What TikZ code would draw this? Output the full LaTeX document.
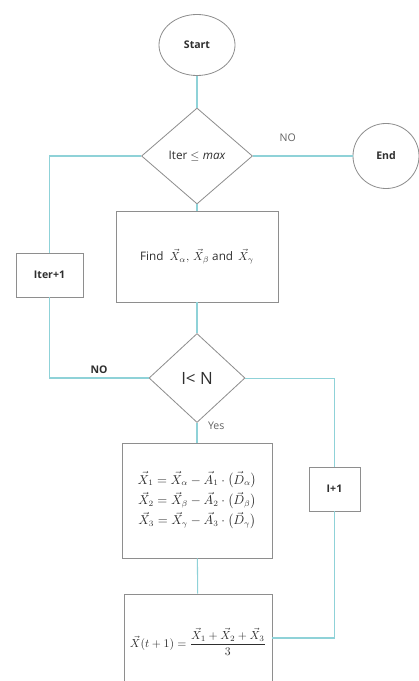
\documentclass[tikz,border=0pt]{standalone}
\usepackage{amsmath,amssymb}
\usepackage{fontspec}
\setmainfont{Open Sans}
\usepackage{tikz}
\usetikzlibrary{shapes.geometric}
\usetikzlibrary{positioning}

\definecolor{flowline}{HTML}{8FD2D8}
\definecolor{boxline}{HTML}{8E8E8E}
\definecolor{ink}{HTML}{2E2E2E}

\begin{document}
\begin{tikzpicture}[x=0.03cm, y=-0.03cm,
    every node/.style={text=ink},
    term/.style={draw=boxline, line width=0.7pt, ellipse, inner sep=0pt, font=\small\bfseries},
    decide/.style={draw=boxline, line width=0.7pt, diamond, inner sep=0pt},
    procbox/.style={draw=boxline, line width=0.7pt, rectangle, inner sep=0pt, align=center},
    flow/.style={draw=flowline, line width=0.9pt}]
    \useasboundingbox (0,0) rectangle (418,681);

    % terminals
    \node[term, minimum width=2.28cm, minimum height=1.83cm] (start) at (197,45) {Start};
    \node[term, minimum width=1.98cm, minimum height=1.95cm] (endn) at (386,156) {End};

    % decisions
    \node[decide, minimum width=3.33cm, minimum height=2.88cm] (iter) at (197,156) {Iter $\leq \mathit{max}$};
    \node[decide, minimum width=2.88cm, minimum height=2.67cm, font=\Large] (cmp) at (197,378) {I< N};

    % process boxes
    \node[procbox, minimum width=4.86cm, minimum height=2.73cm] (find) at (197,256.5)
        {Find \ $\vec{X}_{\alpha},\, \vec{X}_{\beta}$ and \,$\vec{X}_{\gamma}$};
    \node[procbox, minimum width=2.01cm, minimum height=1.32cm, font=\small\bfseries] (iterinc) at (49.5,275) {Iter+1};
    \node[procbox, minimum width=1.53cm, minimum height=1.32cm, font=\small\bfseries] (iinc) at (334.5,489) {I+1};
    \node[procbox, minimum width=4.5cm, minimum height=3.45cm, font=\fontsize{10.5}{13}\selectfont] (update) at (197,500.5)
        {$\vec{X}_1 = \vec{X}_{\alpha} - \vec{A}_1 \cdot \big(\vec{D}_{\alpha}\big)$\\[2pt]
         $\vec{X}_2 = \vec{X}_{\beta} - \vec{A}_2 \cdot \big(\vec{D}_{\beta}\big)$\\[2pt]
         $\vec{X}_3 = \vec{X}_{\gamma} - \vec{A}_3 \cdot \big(\vec{D}_{\gamma}\big)$};
    \node[procbox, minimum width=4.44cm, minimum height=2.88cm] (pos) at (198,642)
        {$\vec{X}(t+1) = \dfrac{\vec{X}_1 + \vec{X}_2 + \vec{X}_3}{3}$};

    % connectors
    \draw[flow] (start) -- (iter);
    \draw[flow] (iter) -- node[pos=0.35, above=0.3cm, font=\small, text=ink!75] {NO} (endn);
    \draw[flow] (iter) -- (find);
    \draw[flow] (find) -- (cmp);
    \draw[flow] (cmp) -- node[pos=0.15, right=0.2cm, font=\small, text=ink!75] {Yes} (update);
    \draw[flow] (update) -- (pos);
    \draw[flow] (cmp.west) -| node[pos=0.25, above, font=\small\bfseries] {NO} (iterinc.south);
    \draw[flow] (iterinc.north) |- (iter.west);
    \draw[flow, line width=0.6pt] (cmp.east) -| (iinc.north);
    \draw[flow] (iinc.south) |- ([yshift=0.12cm]pos.east);
\end{tikzpicture}
\end{document}
